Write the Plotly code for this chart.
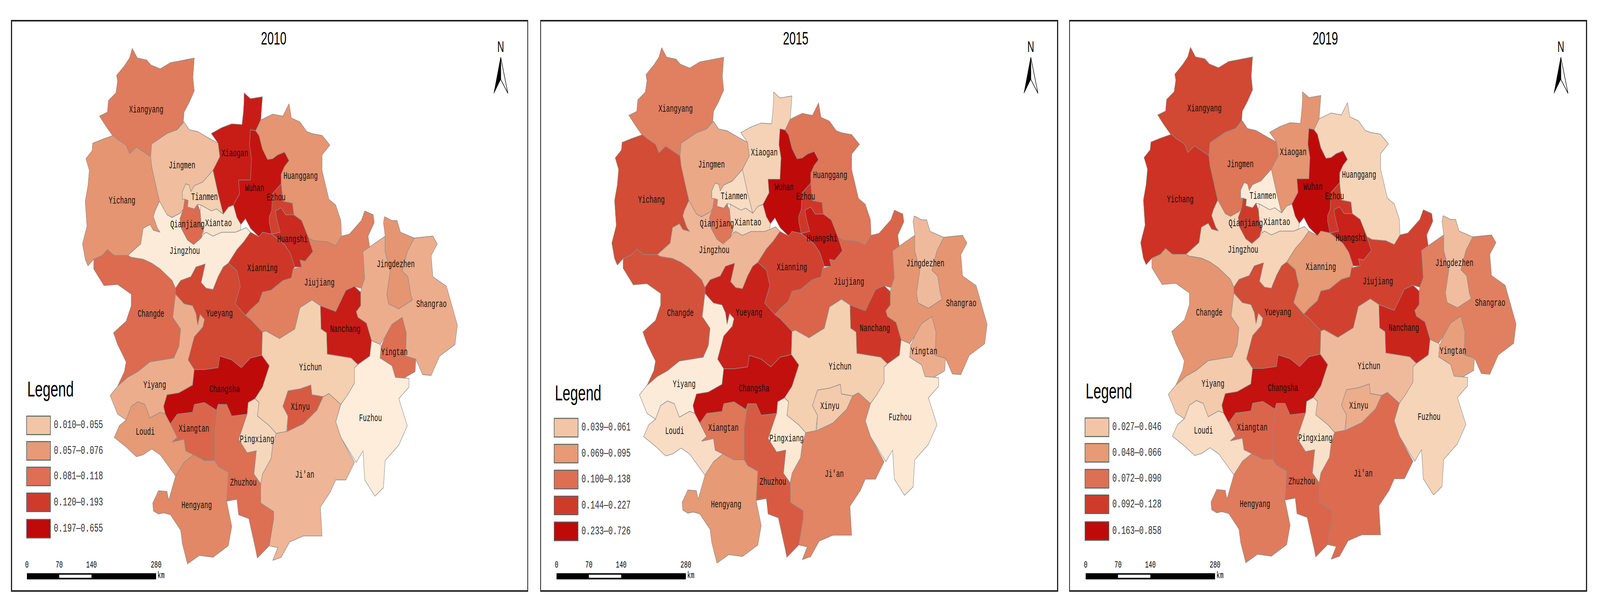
import plotly.graph_objects as go
from plotly.colors import sample_colorscale

YEARS = ['2010', '2015', '2019']

# Region outlines (x right, y down)
XIANGYANG = [(388,125),(403,150),(430,155),(443,168),(470,178),(500,162),(530,157),(570,150),(566,200),(570,235),(555,265),(540,290),(538,315),(520,335),(490,345),(465,360),(445,372),(442,405),(425,395),(400,380),(380,397),(370,375),(345,360),(330,350),(310,325),(292,300),(315,290),(318,260),(340,240),(345,210),(342,195),(365,170),(380,150)]
YICHANG = [(332,350),(345,360),(370,375),(380,397),(400,380),(425,395),(442,405),(445,430),(455,470),(468,520),(455,545),(450,560),(462,590),(470,600),(450,595),(440,580),(420,590),(413,630),(375,660),(335,660),(315,645),(300,660),(275,670),(258,687),(250,670),(242,630),(255,585),(250,520),(258,480),(262,440),(252,410),(270,390),(272,370),(300,360)]
JINGMEN = [(540,315),(555,335),(580,340),(615,358),(640,370),(645,405),(625,440),(610,455),(595,470),(570,480),(560,495),(555,478),(545,475),(535,495),(535,515),(542,515),(538,540),(530,550),(505,562),(490,555),(468,520),(455,470),(445,430),(442,405),(445,372),(465,360),(490,345),(520,335)]
TIANMEN = [(625,440),(640,500),(655,553),(635,540),(620,545),(600,535),(590,530),(580,528),(570,540),(550,535),(552,518),(542,515),(535,515),(535,495),(545,475),(555,478),(560,495),(570,480),(595,470),(610,455)]
QIANJIANG = [(542,515),(552,518),(550,535),(570,540),(580,528),(587,545),(590,575),(597,595),(590,615),(568,632),(550,620),(532,590),(528,565),(538,540)]
XIANTAO = [(590,530),(600,535),(620,545),(635,540),(655,553),(670,535),(685,530),(695,562),(707,580),(705,595),(690,600),(650,600),(625,610),(605,600),(597,605),(597,595),(590,575),(587,545)]
JINGZHOU = [(468,520),(490,555),(505,562),(530,550),(538,540),(528,565),(532,590),(550,620),(568,632),(590,615),(597,605),(605,600),(625,610),(650,600),(690,600),(705,595),(722,588),(735,600),(715,625),(695,645),(670,680),(655,690),(640,715),(625,748),(605,745),(590,730),(602,682),(590,690),(575,690),(560,715),(530,725),(515,745),(505,725),(470,695),(445,680),(420,670),(385,665),(375,660),(413,630),(420,590),(440,580),(450,595),(470,600),(462,590),(450,560),(455,545)]
XIAOGAN = [(716,240),(735,255),(770,250),(765,310),(750,338),(735,335),(732,375),(738,410),(735,465),(700,465),(703,500),(685,530),(670,535),(655,553),(640,500),(625,440),(645,405),(640,370),(620,345),(650,330),(680,320),(710,322),(714,290),(716,260)]
WUHAN = [(735,335),(750,338),(760,350),(770,385),(785,412),(800,410),(815,400),(835,393),(848,415),(835,430),(825,450),(825,475),(800,500),(797,545),(790,560),(790,575),(797,605),(770,600),(760,612),(735,590),(720,565),(707,580),(695,562),(685,530),(703,500),(700,465),(735,465),(738,410),(732,375)]
HUANGGANG = [(765,310),(800,295),(830,300),(848,268),(855,305),(880,315),(900,340),(915,345),(945,350),(968,375),(945,400),(945,440),(965,515),(985,530),(1000,570),(1002,610),(985,635),(960,625),(920,622),(905,615),(885,570),(862,555),(858,525),(830,520),(825,475),(825,450),(835,430),(848,415),(835,393),(815,400),(800,410),(785,412),(770,385),(760,350),(750,338)]
EZHOU = [(800,500),(825,475),(830,520),(858,525),(862,555),(838,555),(825,537),(808,545),(812,565),(822,600),(797,605),(790,575),(790,560),(797,545)]
HUANGSHI = [(808,545),(825,537),(838,555),(862,555),(885,570),(905,615),(918,650),(895,675),(880,672),(885,690),(865,690),(852,655),(835,632),(797,605),(822,600),(812,565)]
XIANNING = [(735,600),(760,612),(770,600),(797,605),(835,632),(852,655),(865,690),(860,695),(855,718),(830,725),(795,750),(770,755),(760,780),(735,800),(720,815),(705,800),(690,785),(705,740),(695,700),(670,680),(695,645),(715,625)]
YUEYANG = [(515,745),(530,725),(560,715),(575,690),(602,682),(590,730),(605,745),(625,748),(640,715),(655,690),(670,680),(695,700),(705,740),(690,785),(705,800),(720,815),(735,825),(770,858),(768,918),(735,925),(708,950),(680,930),(645,920),(640,950),(600,955),(570,955),(552,930),(570,870),(595,845),(600,825),(587,812),(580,840),(575,810),(565,790),(540,785),(515,760)]
JIUJIANG = [(1070,545),(1095,555),(1098,575),(1080,610),(1085,640),(1065,650),(1070,720),(1060,745),(1040,740),(1015,750),(985,805),(940,790),(915,775),(880,795),(865,850),(820,875),(780,855),(770,858),(735,825),(720,815),(735,800),(760,780),(770,755),(795,750),(830,725),(855,718),(860,695),(885,690),(880,672),(895,675),(918,650),(905,615),(920,622),(960,625),(985,635),(1002,610),(1025,605),(1060,570)]
NANCHANG = [(1040,740),(1058,755),(1058,790),(1045,805),(1050,820),(1075,835),(1090,880),(1085,920),(1050,942),(1030,925),(960,915),(958,860),(942,850),(940,790),(985,805),(1015,750)]
JINGDEZHEN = [(1128,560),(1150,570),(1165,570),(1175,600),(1215,615),(1195,650),(1180,700),(1197,715),(1205,760),(1210,775),(1170,798),(1140,785),(1135,760),(1145,700),(1130,650),(1130,610),(1125,575)]
SHANGRAO = [(1130,610),(1130,650),(1145,700),(1135,760),(1140,785),(1170,798),(1210,775),(1205,760),(1197,715),(1180,700),(1195,650),(1215,615),(1270,610),(1283,630),(1265,660),(1270,715),(1310,740),(1342,840),(1335,890),(1290,920),(1265,970),(1240,968),(1220,928),(1190,920),(1192,860),(1180,820),(1150,838),(1130,870),(1115,890),(1090,880),(1075,835),(1050,820),(1045,805),(1058,790),(1058,755),(1060,745),(1070,720),(1065,650)]
YINGTAN = [(1180,820),(1192,860),(1190,920),(1220,928),(1218,960),(1170,985),(1160,975),(1150,945),(1115,925),(1118,895),(1130,870),(1150,838)]
FUZHOU = [(1090,880),(1115,890),(1118,895),(1115,925),(1150,945),(1160,975),(1200,978),(1200,1000),(1170,1030),(1195,1100),(1170,1150),(1130,1190),(1125,1260),(1100,1282),(1070,1240),(1065,1165),(1045,1195),(1000,1130),(985,1090),(1000,1045),(1040,990),(1040,950),(1050,942),(1085,920)]
YICHUN = [(915,775),(940,790),(942,850),(958,860),(960,915),(1030,925),(1050,942),(1040,950),(1040,990),(1020,1020),(1000,1045),(965,1017),(948,1025),(915,1020),(912,995),(880,1005),(845,1010),(830,1050),(845,1075),(840,1115),(810,1120),(790,1100),(755,1075),(760,1040),(748,1030),(770,1000),(790,945),(768,918),(770,858),(780,855),(820,875),(865,850),(880,795)]
XINYU = [(845,1010),(880,1005),(912,995),(915,1020),(948,1025),(930,1060),(890,1095),(842,1115),(845,1075),(830,1050)]
JIAN = [(842,1115),(890,1095),(930,1060),(948,1025),(965,1017),(1000,1045),(985,1090),(1000,1130),(1040,1195),(1015,1240),(985,1240),(970,1270),(940,1310),(945,1385),(890,1385),(850,1400),(825,1440),(800,1448),(815,1415),(790,1410),(803,1340),(803,1322),(765,1300),(765,1250),(770,1225),(795,1185),(800,1150),(810,1120),(840,1115)]
PINGXIANG = [(748,1030),(760,1040),(755,1075),(790,1100),(810,1120),(800,1150),(795,1185),(770,1225),(765,1250),(745,1225),(752,1165),(725,1170),(700,1135),(725,1070),(728,1040)]
CHANGSHA = [(645,920),(680,930),(708,950),(735,925),(768,918),(790,945),(770,1000),(748,1030),(728,1040),(725,1070),(680,1075),(665,1045),(640,1045),(635,1060),(600,1040),(570,1045),(565,1065),(520,1070),(500,1095),(485,1070),(480,1050),(490,1020),(525,1015),(565,995),(570,955),(600,955),(640,950)]
CHANGDE = [(315,645),(335,660),(375,660),(385,665),(420,670),(445,680),(470,695),(505,725),(515,745),(515,760),(507,820),(530,850),(525,895),(510,925),(440,935),(405,960),(375,975),(345,998),(365,960),(370,935),(345,890),(333,860),(370,830),(385,790),(385,760),(345,735),(305,738),(275,695),(275,670),(300,660)]
YIYANG = [(515,760),(540,785),(565,790),(575,810),(580,840),(587,812),(600,825),(595,845),(570,870),(552,930),(570,955),(565,995),(525,1015),(490,1020),(480,1050),(485,1070),(470,1065),(440,1080),(425,1045),(405,1038),(385,1050),(370,1085),(345,1070),(323,1022),(345,998),(375,975),(405,960),(440,935),(510,925),(525,895),(530,850),(507,820)]
LOUDI = [(405,1038),(425,1045),(440,1080),(470,1065),(485,1070),(500,1095),(520,1130),(505,1142),(540,1135),(545,1165),(568,1175),(540,1195),(515,1230),(470,1175),(445,1160),(420,1175),(400,1180),(370,1155),(335,1130),(350,1100),(370,1085),(385,1050)]
XIANGTAN = [(500,1095),(520,1070),(565,1065),(570,1045),(600,1040),(635,1060),(640,1045),(630,1110),(630,1190),(600,1190),(568,1175),(545,1165),(540,1135),(505,1142),(520,1130)]
ZHUZHOU = [(640,1045),(665,1045),(680,1075),(725,1070),(700,1135),(725,1170),(752,1165),(745,1225),(765,1250),(765,1300),(803,1322),(803,1340),(790,1410),(755,1442),(750,1420),(730,1340),(700,1330),(695,1290),(665,1295),(670,1220),(640,1205),(630,1190),(630,1110)]
HENGYANG = [(568,1175),(600,1190),(630,1190),(640,1205),(670,1220),(665,1295),(680,1360),(670,1410),(625,1440),(585,1435),(550,1457),(535,1405),(530,1370),(500,1330),(480,1325),(465,1328),(450,1320),(448,1300),(465,1268),(490,1270),(495,1292),(515,1230),(540,1195)]

OUTLINES = [XIANGYANG, YICHANG, JINGMEN, JINGZHOU, TIANMEN, XIANTAO, QIANJIANG, XIAOGAN, WUHAN, HUANGGANG,
            XIANNING, YUEYANG, EZHOU, HUANGSHI, JIUJIANG, SHANGRAO, JINGDEZHEN, YINGTAN, NANCHANG, FUZHOU,
            YICHUN, XINYU, JIAN, PINGXIANG, CHANGDE, YIYANG, LOUDI, XIANGTAN, ZHUZHOU, HENGYANG, CHANGSHA]

NAMES = ['Xiangyang', 'Yichang', 'Jingmen', 'Jingzhou', 'Tianmen', 'Xiantao', 'Qianjiang', 'Xiaogan', 'Wuhan', 'Huanggang',
         'Xianning', 'Yueyang', 'Ezhou', 'Huangshi', 'Jiujiang', 'Shangrao', 'Jingdezhen', 'Yingtan', 'Nanchang', 'Fuzhou',
         'Yichun', 'Xinyu', "Ji'an", 'Pingxiang', 'Changde', 'Yiyang', 'Loudi', 'Xiangtan', 'Zhuzhou', 'Hengyang', 'Changsha']

LABEL_X = [429, 358, 534, 542, 600, 641, 550, 689, 747, 882, 770, 644, 810, 858, 937, 1266, 1161, 1157, 1013, 1087, 911, 881, 894, 754, 443, 454, 426, 569, 714, 577, 659]
LABEL_Y = [284, 519, 429, 650, 510, 578, 581, 397, 487, 456, 694, 811, 511, 619, 731, 787, 684, 911, 851, 1082, 950, 1052, 1228, 1136, 812, 996, 1117, 1109, 1248, 1307, 1007]

# Shade of each region on the colour ramp, same order as NAMES
SHADES_2010 = [.52, .42, .27, .03, .2, .08, .6, .9, .95, .42, .8, .72, .75, .85, .5, .33, .42, .58, .9, .02, .2, .65, .3, .15, .6, .33, .4, .62, .58, .47, 1]
SHADES_2015 = [.5, .7, .35, .3, .12, .15, .55, .18, 1, .55, .75, .88, .8, .92, .62, .42, .28, .33, .8, .05, .2, .22, .48, .05, .68, .03, .12, .55, .65, .4, .97]
SHADES_2019 = [.72, .82, .55, .17, .03, .08, .78, .42, 1, .17, .4, .7, .8, .88, .75, .5, .27, .38, .87, .17, .28, .33, .6, .1, .42, .22, .12, .62, .62, .52, .96]

LEGEND_2010 = ['0.010—0.055', '0.057—0.076', '0.081—0.118', '0.120—0.193', '0.197—0.655']
LEGEND_2015 = ['0.039—0.061', '0.069—0.095', '0.100—0.138', '0.144—0.227', '0.233—0.726']
LEGEND_2019 = ['0.027—0.046', '0.048—0.066', '0.072—0.090', '0.092—0.128', '0.163—0.858']
SWATCH_SHADES = [.24, .4, .58, .78, 1]

SCALE_TICKS = [0, 70, 140, 280]

RAMP = [[0, '#FEF0DF'], [.2, '#F4CFB0'], [.3, '#EEB596'], [.4, '#E69A75'], [.5, '#E08060'],
        [.6, '#DC6B50'], [.7, '#D24C36'], [.8, '#CE3728'], [.9, '#C81D16'], [1, '#BF0A0A']]

# pixel layout of the three frames
W, H = 6436, 1554
FRAMES = [(48, 2121), (2177, 4252), (4304, 6380)]
TOP, BOTTOM = 54.5, 1511
MAP_DY = [0, 2, 3]
TITLE_X = [803, 781, 783]
LEGEND_DX = [0, -5, 1]
LEGEND_TOP = [1010, 1022, 1018]
SWATCH_Y = [[1099, 1165, 1231, 1298, 1366], [1107, 1174, 1241, 1308, 1375], [1107, 1173, 1240, 1306, 1375]]
NORTH_DX = [0, 1, 4]
BAR_DX = [0, 1, 2]


def shade(v):
    return sample_colorscale(RAMP, [v])[0]


fig = go.Figure()

shapes = []
for i, (year, shades, legend) in enumerate(zip(YEARS, [SHADES_2010, SHADES_2015, SHADES_2019], [LEGEND_2010, LEGEND_2015, LEGEND_2019])):
    ax = '' if i == 0 else str(i + 1)
    xa, ya = 'x' + ax, 'y' + ax
    fig.update_layout({
        'xaxis' + ax: dict(domain=[FRAMES[i][0] / W, FRAMES[i][1] / W], range=[35, 1547], showgrid=False, zeroline=False, anchor=ya,
                           showticklabels=False, ticks='', showline=True, mirror=True, linewidth=4, linecolor='#222222'),
        'yaxis' + ax: dict(domain=[1 - BOTTOM / H, 1 - TOP / H], range=[1525 + MAP_DY[i], 55 + MAP_DY[i]], showgrid=False, zeroline=False, anchor=xa,
                           showticklabels=False, ticks='', showline=True, mirror=True, linewidth=4, linecolor='#222222'),
    })

    # regions
    for name, outline, v in zip(NAMES, OUTLINES, shades):
        pts = outline + outline[:1]
        fig.add_trace(go.Scatter(x=[p[0] for p in pts], y=[p[1] for p in pts], mode='lines', fill='toself',
                                 fillcolor=shade(v), line=dict(color='#8c8c8c', width=1.6), name=name,
                                 hoverinfo='name', xaxis=xa, yaxis=ya))

    # city names
    fig.add_trace(go.Scatter(x=LABEL_X, y=LABEL_Y, mode='text', text=NAMES, hoverinfo='skip', xaxis=xa, yaxis=ya,
                             textfont=dict(family='Liberation Mono', size=25.5, color='#111111')))

    # title
    fig.add_trace(go.Scatter(x=[TITLE_X[i]], y=[103 + MAP_DY[i]], mode='text', text=[year], hoverinfo='skip', xaxis=xa, yaxis=ya,
                             textfont=dict(family='Liberation Sans', size=46, color='black')))

    # legend
    dx = LEGEND_DX[i]
    fig.add_trace(go.Scatter(x=[80 + dx], y=[LEGEND_TOP[i]], mode='text', text=['Legend'], textposition='middle right',
                             hoverinfo='skip', xaxis=xa, yaxis=ya, textfont=dict(family='Liberation Sans', size=56, color='black')))
    for sy, sv in zip(SWATCH_Y[i], SWATCH_SHADES):
        shapes.append(dict(type='rect', xref=xa, yref=ya, x0=78 + dx, x1=148 + dx, y0=sy - 24, y1=sy + 24,
                           fillcolor=shade(sv), line=dict(color='#55666a', width=2.5)))
    fig.add_trace(go.Scatter(x=[158 + dx] * 5, y=SWATCH_Y[i], mode='text', text=legend, textposition='middle right',
                             hoverinfo='skip', xaxis=xa, yaxis=ya, textfont=dict(family='Liberation Mono', size=30, color='#333333')))

    # scale bar, 280 km long
    bx = BAR_DX[i]
    km_x = [79 + bx + t * 379 / 280 for t in SCALE_TICKS]
    shapes.append(dict(type='rect', xref=xa, yref=ya, x0=km_x[0], x1=km_x[3], y0=1481 + MAP_DY[i], y1=1497 + MAP_DY[i], fillcolor='black', line=dict(width=0)))
    shapes.append(dict(type='rect', xref=xa, yref=ya, x0=km_x[1], x1=km_x[2], y0=1485 + MAP_DY[i], y1=1493 + MAP_DY[i], fillcolor='white', line=dict(width=0)))
    fig.add_trace(go.Scatter(x=km_x, y=[1460 + MAP_DY[i]] * 4, mode='text', text=[str(t) for t in SCALE_TICKS],
                             hoverinfo='skip', xaxis=xa, yaxis=ya, textfont=dict(family='Liberation Mono', size=24, color='black')))
    fig.add_trace(go.Scatter(x=[km_x[3] + 4], y=[1488 + MAP_DY[i]], mode='text', text=['km'], textposition='middle right',
                             hoverinfo='skip', xaxis=xa, yaxis=ya, textfont=dict(family='Liberation Mono', size=24, color='black')))

    # north arrow
    nx = 1469 + NORTH_DX[i]
    ny = MAP_DY[i]
    fig.add_trace(go.Scatter(x=[nx], y=[125 + ny], mode='text', text=['N'], hoverinfo='skip', xaxis=xa, yaxis=ya,
                             textfont=dict(family='Liberation Sans', size=38, color='black')))
    fig.add_trace(go.Scatter(x=[nx, nx + 21, nx, nx], y=[148 + ny, 241 + ny, 205 + ny, 148 + ny], mode='lines', fill='toself',
                             fillcolor='white', line=dict(color='black', width=2), hoverinfo='skip', xaxis=xa, yaxis=ya))
    fig.add_trace(go.Scatter(x=[nx, nx - 20, nx, nx], y=[148 + ny, 241 + ny, 205 + ny, 148 + ny], mode='lines', fill='toself',
                             fillcolor='black', line=dict(color='black', width=1), hoverinfo='skip', xaxis=xa, yaxis=ya))

fig.update_layout(width=W, height=H, margin=dict(l=0, r=0, t=0, b=0), paper_bgcolor='white', plot_bgcolor='white',
                  showlegend=False, shapes=shapes)

# the browser window can be narrower than the figure, so fit the whole figure into it
fit_js = """
document.body.style.margin = '0';
document.body.style.overflow = 'hidden';
var g = document.querySelector('.plotly-graph-div');
g.style.transformOrigin = '0 0';
g.style.transform = 'scale(' + window.innerWidth / %d + ',' + window.innerHeight / %d + ')';
""" % (W, H)
fig.write_html("out.html", post_script=fit_js, config={'displayModeBar': False})
